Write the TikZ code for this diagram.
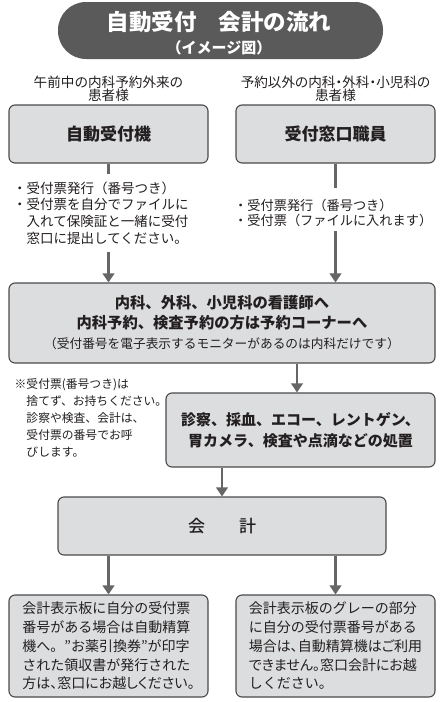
\documentclass[tikz,border=0pt]{standalone}
\usepackage{fontspec}
\setmainfont{Noto Sans CJK JP}
\newfontfamily\jpp{Noto Sans CJK JP}[RawFeature=+palt]
\IfFontExistsTF{Noto Sans CJK JP Medium}
  {\newfontfamily\jpm{Noto Sans CJK JP Medium}}
  {\newcommand{\jpm}{\bfseries}}
\usetikzlibrary{arrows.meta}
\definecolor{pillc}{HTML}{5A5A5A}
\definecolor{boxfill}{HTML}{DCDDDF}
\definecolor{boxline}{HTML}{4A4A4A}
\definecolor{arrowc}{HTML}{666666}
\definecolor{txtc}{HTML}{231F20}
\newcommand{\fsz}[2]{\fontsize{#1}{#2}\selectfont}
\newcommand{\cjs}{\rule[-0.12em]{0pt}{1em}}
\begin{document}
\begin{tikzpicture}[x=1pt,y=-1pt,
  box/.style={draw=boxline, line width=1.1pt, fill=boxfill, rounded corners=6pt,
    inner sep=0pt, text=txtc, align=center},
  conn/.style={draw=arrowc, line width=2.8pt},
  arr/.style={conn, -{Triangle[width=11.5pt,length=9pt]}},
  tb/.style={inner sep=0pt, text=txtc},
]
\useasboundingbox (0,0) rectangle (443,702);
\fill[white] (0,0) rectangle (443,702);

% title
\node[fill=pillc, rounded corners=28pt, minimum width=325pt, minimum height=57pt, inner sep=0pt] (title) at (220.5,30.5) {};
\node[tb, text=white, anchor=north, font=\fsz{22.5}{26}\bfseries] (title1) at (219,10.4) {\rule{0pt}{0.9em}自動受付　会計の流れ};
\node[tb, text=white, anchor=north, font=\fsz{15}{18}\bfseries] (title2) at (219,39.7) {\rule{0pt}{0.9em}（イメージ図）};

% subtitles
\node[tb, anchor=north, align=center, font=\fsz{13.6}{13}] (sub1) at (108.5,75) {\rule{0pt}{0.9em}午前中の内科予約外来の\\患者様};
\node[tb, anchor=north, align=center, font=\fsz{13.6}{13}] (sub2) at (335.5,75) {\rule{0pt}{0.9em}{\jpp 予約以外の内科・外科・小児科の}\\患者様};

% top boxes
\node[box, minimum width=199pt, minimum height=58pt, font=\fsz{17}{20}\bfseries] (b1) at (108.5,134) {\cjs 自動受付機};
\node[box, minimum width=199pt, minimum height=58pt, font=\fsz{17}{20}\bfseries] (b2) at (335.5,134) {\cjs 受付窓口職員};

% side texts
\node[tb, anchor=north west, align=left, font=\fsz{13.5}{16.6}] (t1) at (13,181) {\rule{0pt}{0.9em}・受付票発行（番号つき）\\・受付票を自分でファイルに\\　入れて保険証と一緒に受付\\　窓口に提出してください。};
\node[tb, anchor=north west, align=left, font=\fsz{13.2}{15}] (t2) at (234,198) {\rule{0pt}{0.9em}・受付票発行（番号つき）\\・受付票（ファイルに入れます）};

% big box
\node[box, minimum width=426pt, minimum height=80pt, font=\fsz{15.3}{20}\bfseries] (b3) at (222,323)
  {\cjs 内科、外科、小児科の看護師へ\\内科予約、検査予約の方は予約コーナーへ\\{\fsz{12.7}{20}\normalfont （受付番号を電子表示するモニターがあるのは内科だけです）}\cjs};

% note
\node[tb, anchor=north west, align=left, font=\fsz{11.8}{17}] (note) at (14.5,378) {\rule{0pt}{0.9em}※受付票(番号つき)は\\　捨てず、お持ちください。\\　診察や検査、会計は、\\　受付票の番号でお呼\\　びします。};

% treatment box
\node[box, minimum width=269pt, minimum height=74pt, font=\fsz{15}{21}\bfseries] (b4) at (300.5,430)
  {\cjs 診察、採血、エコー、レントゲン、\\胃カメラ、検査や点滴などの処置\cjs};

% payment
\node[box, minimum width=328pt, minimum height=58pt, font=\fsz{17}{20}\jpm] (b5) at (222,526) {\cjs 会　　計};

% bottom boxes
\node[box, minimum width=199pt, minimum height=102pt, align=left, font=\fsz{14}{18.75}] (b6) at (108.5,646)
  {\cjs 会計表示板に自分の受付票\\番号がある場合は自動精算\\機へ。"お薬引換券"が印字\\された領収書が発行された\\{\jpp 方は、窓口にお越しください。}\cjs};
\node[box, minimum width=199pt, minimum height=102pt, align=left, font=\fsz{14}{18.75}] (b7) at (335.5,646)
  {\cjs 会計表示板のグレーの部分\\に自分の受付票番号がある\\{\jpp 場合は、自動精算機はご利用}\\{\jpp できません。窓口会計にお越}\\しください。\cjs};

% connectors
\coordinate (l1) at (108.5,174);
\coordinate (l2) at (108.5,252);
\coordinate (r1) at (335.5,188);
\coordinate (r2) at (335.5,231);
\draw[conn] (b1.south) -- (l1);
\draw[arr] (l2) -- (b1.south |- b3.north);
\draw[conn] (b2.south) -- (r1);
\draw[arr] (r2) -- (b2.south |- b3.north);
\draw[arr] ([xshift=-3.5pt]b4.north |- b3.south) -- ([xshift=-3.5pt]b4.north);
\draw[arr] (b5.north |- b4.south) -- (b5.north);
\draw[arr] (b6.north |- b5.south) -- (b6.north);
\draw[arr] (b7.north |- b5.south) -- (b7.north);
\end{tikzpicture}
\end{document}
